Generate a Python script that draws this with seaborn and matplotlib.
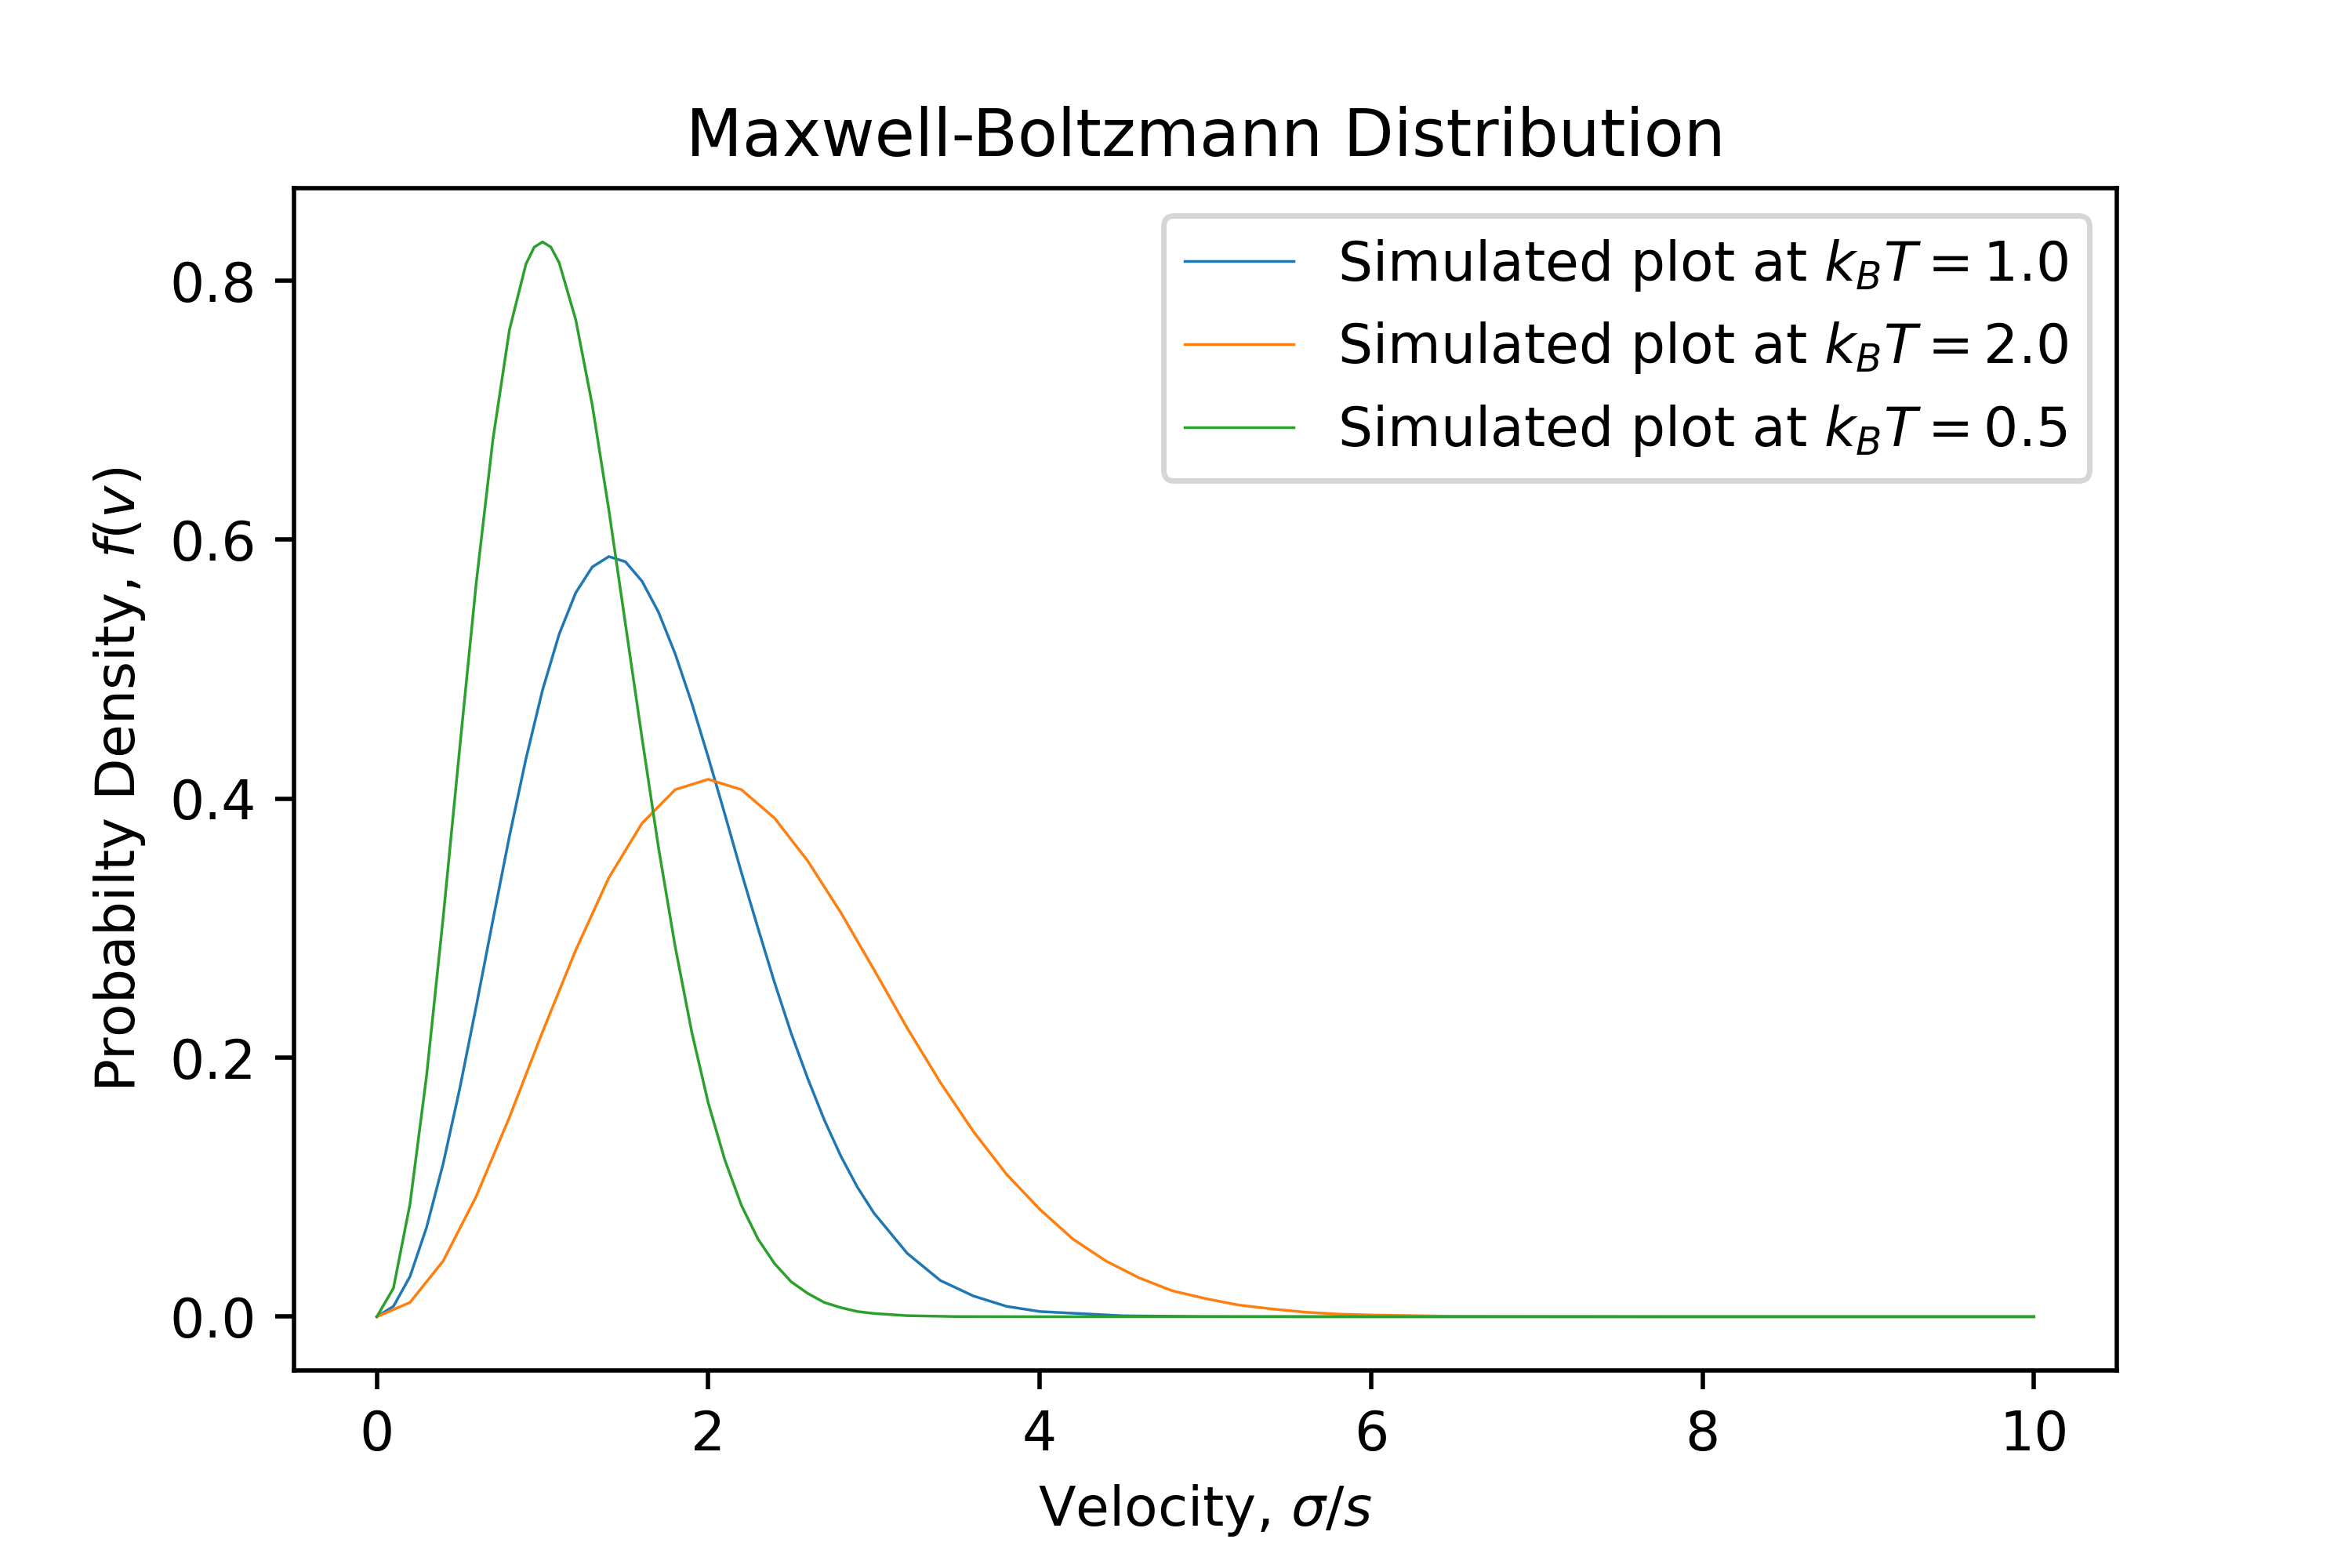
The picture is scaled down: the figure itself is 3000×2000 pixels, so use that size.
import numpy as np
import matplotlib
matplotlib.use("Agg")
import matplotlib.pyplot as plt
import seaborn as sns

# velocity grid and densities
v_fine = [0.0, 0.1, 0.2, 0.3, 0.4, 0.5, 0.6, 0.7, 0.8, 0.9,
          1.0, 1.1, 1.2, 1.3, 1.4, 1.5, 1.6, 1.7, 1.8, 1.9,
          2.0, 2.1, 2.2, 2.3, 2.4, 2.5, 2.6, 2.7, 2.8, 2.9,
          3.0, 3.2, 3.4, 3.6, 3.8, 4.0, 4.5, 5.0, 6.0, 8.0, 10.0]

f_kt1 = [0.0, 0.008, 0.031, 0.069, 0.118, 0.176, 0.240, 0.306, 0.371, 0.431,
         0.484, 0.527, 0.559, 0.579, 0.587, 0.583, 0.568, 0.544, 0.512, 0.474,
         0.432, 0.388, 0.343, 0.300, 0.258, 0.219, 0.184, 0.152, 0.124, 0.100,
         0.080, 0.049, 0.028, 0.016, 0.008, 0.004, 0.0007, 0.0001, 0.0, 0.0, 0.0]

v_green = [0.0, 0.1, 0.2, 0.3, 0.4, 0.5, 0.6, 0.7, 0.8, 0.9, 0.95,
           1.0, 1.05, 1.1, 1.2, 1.3, 1.4, 1.5, 1.6, 1.7, 1.8, 1.9,
           2.0, 2.1, 2.2, 2.3, 2.4, 2.5, 2.6, 2.7, 2.8, 2.9,
           3.0, 3.2, 3.5, 4.0, 6.0, 8.0, 10.0]

f_kt05 = [0.0, 0.022, 0.087, 0.186, 0.308, 0.439, 0.567, 0.677, 0.762, 0.813, 0.826,
          0.830, 0.826, 0.814, 0.770, 0.704, 0.623, 0.535, 0.447, 0.362, 0.286, 0.220,
          0.165, 0.121, 0.086, 0.060, 0.041, 0.027, 0.018, 0.011, 0.007, 0.004,
          0.0025, 0.0008, 0.0001, 0.0, 0.0, 0.0, 0.0]

v_wide = [0.0, 0.2, 0.4, 0.6, 0.8, 1.0, 1.2, 1.4, 1.6, 1.8,
          2.0, 2.2, 2.4, 2.6, 2.8, 3.0, 3.2, 3.4, 3.6, 3.8,
          4.0, 4.2, 4.4, 4.6, 4.8, 5.0, 5.2, 5.4, 5.6, 5.8,
          6.0, 6.5, 7.0, 8.0, 10.0]

f_kt2 = [0.0, 0.011, 0.043, 0.093, 0.154, 0.220, 0.283, 0.339, 0.381, 0.407,
         0.415, 0.407, 0.385, 0.352, 0.312, 0.268, 0.223, 0.181, 0.143, 0.110,
         0.083, 0.060, 0.043, 0.030, 0.020, 0.014, 0.009, 0.006, 0.0035, 0.002,
         0.0013, 0.0003, 0.0001, 0.0, 0.0]

labels = [r"Simulated plot at $k_BT = 1.0$",
          r"Simulated plot at $k_BT = 2.0$",
          r"Simulated plot at $k_BT = 0.5$"]

fig, ax = plt.subplots(figsize=(6, 4), dpi=500)
fig.subplots_adjust(bottom=0.126)

sns.lineplot(x=v_fine, y=f_kt1, ax=ax, color="C0", linewidth=0.5, label=labels[0])
sns.lineplot(x=v_wide, y=f_kt2, ax=ax, color="C1", linewidth=0.5, label=labels[1])
sns.lineplot(x=v_green, y=f_kt05, ax=ax, color="C2", linewidth=0.5, label=labels[2])

ax.set_title("Maxwell-Boltzmann Distribution")
ax.set_xlabel(r"Velocity, $\sigma/s$")
ax.set_ylabel(r"Probabilty Density, $f(v)$")
ax.legend(loc="upper right")

fig.savefig("out.png", dpi=500)
